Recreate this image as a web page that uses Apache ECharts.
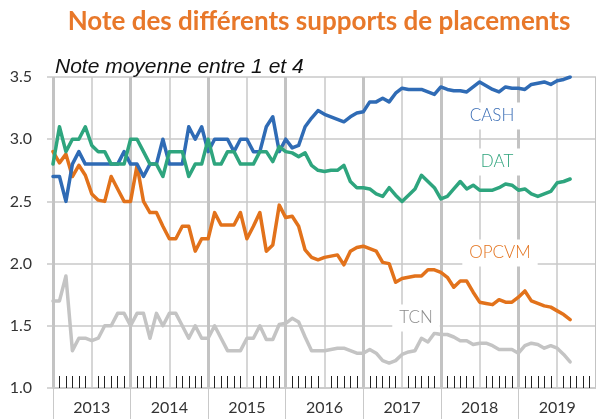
<!DOCTYPE html>
<html><head><meta charset="utf-8">
<script src="https://cdn.jsdelivr.net/npm/echarts@6/dist/echarts.min.js"></script>
<style>html,body{margin:0;padding:0;background:#fff}#c{width:596px;height:419px}</style>
</head><body><div id="c"></div>
<script>
// Monthly values, Jan 2013 .. Sep 2019
const years = ['2013','2014','2015','2016','2017','2018','2019'];
const cash = [2.70,2.70,2.50,2.80,2.90,2.80,2.80,2.80,2.80,2.80,2.80,2.90,
2.80,2.80,2.70,2.80,2.80,3.00,2.80,2.80,2.80,3.10,3.00,3.10,
2.90,3.00,3.00,3.00,2.90,3.00,3.00,2.90,2.90,3.10,3.18,2.90,
3.00,2.93,2.95,3.10,3.17,3.23,3.20,3.18,3.16,3.14,3.18,3.21,
3.22,3.30,3.30,3.33,3.30,3.37,3.41,3.40,3.40,3.40,3.38,3.36,
3.42,3.40,3.39,3.39,3.38,3.42,3.46,3.43,3.40,3.38,3.42,3.41,
3.41,3.40,3.44,3.45,3.46,3.44,3.47,3.48,3.50];
const dat = [2.80,3.10,2.90,3.00,3.00,3.10,2.95,2.90,2.90,2.80,2.80,2.80,
3.00,3.00,2.90,2.80,2.80,2.70,2.90,2.90,2.90,2.70,2.80,2.80,
3.00,2.80,2.80,2.90,2.90,2.80,2.80,2.80,2.90,2.90,2.82,2.94,
2.90,2.89,2.86,2.89,2.79,2.75,2.74,2.75,2.75,2.79,2.66,2.61,
2.61,2.60,2.56,2.54,2.61,2.55,2.50,2.55,2.60,2.71,2.66,2.61,
2.52,2.54,2.60,2.66,2.60,2.63,2.59,2.59,2.59,2.61,2.64,2.63,
2.59,2.60,2.56,2.54,2.56,2.58,2.65,2.66,2.68];
const opcvm = [2.90,2.81,2.88,2.70,2.79,2.71,2.56,2.51,2.50,2.70,2.60,2.50,
2.50,2.79,2.50,2.41,2.41,2.30,2.20,2.20,2.30,2.30,2.10,2.20,
2.20,2.41,2.31,2.31,2.31,2.41,2.20,2.30,2.41,2.10,2.15,2.47,
2.37,2.38,2.30,2.11,2.05,2.03,2.05,2.06,2.07,1.99,2.10,2.13,
2.14,2.12,2.10,2.01,2.00,1.85,1.88,1.89,1.90,1.90,1.95,1.95,
1.93,1.89,1.81,1.86,1.86,1.77,1.69,1.68,1.67,1.71,1.69,1.69,
1.73,1.78,1.70,1.68,1.66,1.65,1.62,1.59,1.55];
const tcn = [1.70,1.70,1.90,1.30,1.40,1.40,1.38,1.40,1.50,1.50,1.60,1.60,
1.50,1.60,1.60,1.40,1.60,1.50,1.60,1.60,1.50,1.40,1.50,1.40,
1.40,1.50,1.40,1.30,1.30,1.30,1.40,1.40,1.50,1.39,1.39,1.51,
1.52,1.56,1.53,1.41,1.30,1.30,1.30,1.31,1.32,1.32,1.30,1.28,
1.28,1.31,1.28,1.22,1.20,1.22,1.27,1.29,1.30,1.40,1.37,1.44,
1.43,1.43,1.41,1.38,1.38,1.35,1.36,1.36,1.34,1.31,1.31,1.31,
1.28,1.34,1.36,1.35,1.32,1.34,1.32,1.27,1.21];

const toPts = a => a.map((v, i) => [i, v]);
const FONT = 'Lato';
const gridCol = '#c9c9c9';

const chart = echarts.init(document.getElementById('c'), null, {renderer: 'canvas'});
function mkSeries(name, arr, color, z) {
  return {name, type: 'line', data: toPts(arr), xAxisIndex: 0, yAxisIndex: 0,
    symbol: 'none', smooth: false, z,
    lineStyle: {color, width: 3.5, join: 'round', cap: 'round'}, itemStyle: {color}};
}
function lbl(text, x, y, color) {
  return {type: 'text', x, y, z: 100,
    style: {text, fill: color, font: '300 17px ' + FONT, align: 'center', verticalAlign: 'middle',
      textAlign: 'center', textVerticalAlign: 'middle', backgroundColor: '#fff', padding: [5, 7]}};
}
chart.setOption({
  backgroundColor: '#fff',
  animation: false,
  grid: {left: 53, top: 77, width: 548, height: 311, containLabel: false},
  xAxis: [
    {type: 'value', min: 0, max: 84, interval: 6,
      axisLine: {show: false}, axisTick: {show: false, inside: true}, axisLabel: {show: false},
      minorTick: {show: true, splitNumber: 6, length: 12, lineStyle: {color: '#222', width: 1}},
      splitLine: {show: true, lineStyle: {color: gridCol, width: 1.5}}},
    {type: 'value', min: 0, max: 84, interval: 12,
      axisLine: {show: false}, axisTick: {show: false}, axisLabel: {show: false},
      splitLine: {show: true, lineStyle: {color: '#c3c3c3', width: 3}}},
    {type: 'category', data: years, boundaryGap: true, position: 'bottom',
      axisLine: {show: true, lineStyle: {color: gridCol, width: 1.5}},
      axisTick: {show: true, length: 31, lineStyle: {color: gridCol, width: 1}},
      axisLabel: {fontSize: 16, color: '#333', margin: 12, fontFamily: FONT},
      splitLine: {show: false}}
  ],
  yAxis: {type: 'value', min: 1, max: 3.5, interval: 0.5,
    axisLine: {show: false},
    axisTick: {show: true, length: 6, lineStyle: {color: gridCol, width: 1.5}},
    axisLabel: {formatter: v => v.toFixed(1), fontSize: 16, color: '#333', margin: 21, fontFamily: FONT},
    splitLine: {show: true, lineStyle: {color: gridCol, width: 1.5}}},
  series: [
    mkSeries('TCN', tcn, '#c4c4c4', 2),
    mkSeries('OPCVM', opcvm, '#e2721b', 3),
    mkSeries('CASH', cash, '#2f6bb5', 4),
    mkSeries('DAT', dat, '#2ea57e', 5)
  ],
  graphic: [
    {type: 'text', x: 319, y: 22, z: 100,
      style: {text: 'Note des différents supports de placements', fill: '#e8782a',
        font: 'bold 26px ' + FONT, align: 'center', verticalAlign: 'middle', textAlign: 'center', textVerticalAlign: 'middle'}},
    {type: 'text', x: 55, y: 67, z: 100,
      style: {text: 'Note moyenne entre 1 et 4', fill: '#111',
        font: 'italic 21px "Liberation Sans"', align: 'left', verticalAlign: 'middle', textAlign: 'left', textVerticalAlign: 'middle'}},
    lbl('CASH', 492, 116, '#3a6db5'),
    lbl('DAT', 497, 162, '#2ea37c'),
    lbl('OPCVM', 500, 253, '#e3731e'),
    lbl('TCN', 416, 318, '#8a8a8a')
  ]
});
</script></body></html>
